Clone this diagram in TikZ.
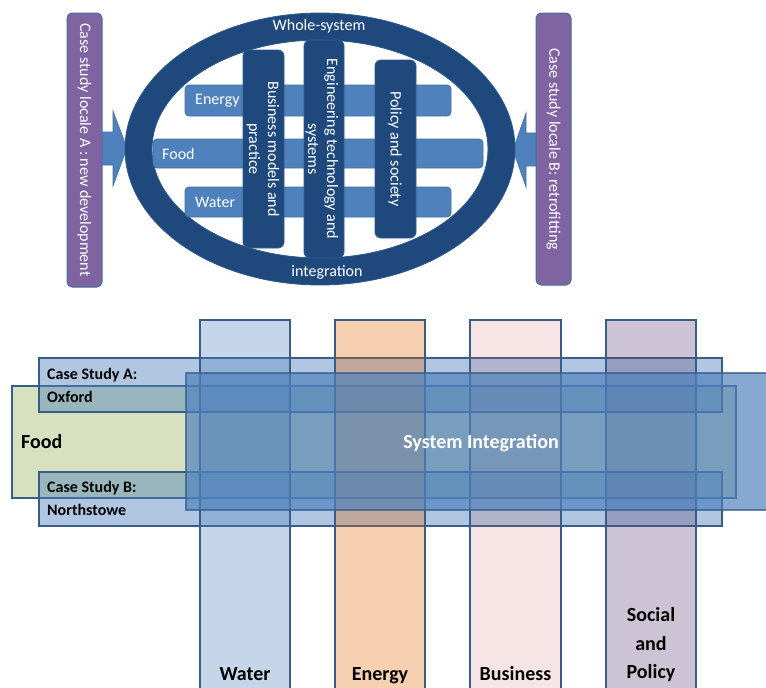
\documentclass[tikz,border=0pt]{standalone}
\usepackage{fontspec}
\setmainfont{Carlito}
\definecolor{ringblue}{HTML}{1F497D}
\definecolor{ringedge}{HTML}{2D5A8C}
\definecolor{midblue}{HTML}{4F81BD}
\definecolor{midedge}{HTML}{41719C}
\definecolor{localeviolet}{HTML}{8064A2}
\definecolor{bandedge}{HTML}{385D8A}
\definecolor{foodgreen}{HTML}{D7E0BF}
\definecolor{energyorange}{HTML}{E46C0A}
\definecolor{businessred}{HTML}{C0504D}
\definecolor{socialpurple}{HTML}{5F497A}
\tikzset{
  toptext/.style={text=white, font=\fontsize{16}{19}\selectfont, inner sep=0pt, align=center},
  hbar/.style={fill=midblue, draw=midedge, line width=0.8pt, rounded corners=4pt},
  vbar/.style={fill=ringblue, draw=ringedge, line width=0.8pt, rounded corners=6pt},
  localebox/.style={fill=localeviolet, draw=midedge, line width=1pt, rounded corners=5pt},
  blockarrow/.style={fill=midblue, draw=midedge, line width=0.6pt},
  band/.style={fill=midblue, fill opacity=0.45, draw=bandedge, line width=2.5pt},
  column/.style={draw=bandedge, line width=2.5pt},
  biglabel/.style={font=\bfseries\fontsize{20}{28.5}\selectfont, inner sep=0pt, align=center},
  caselabel/.style={font=\bfseries\fontsize{16}{19}\selectfont, inner sep=0pt, anchor=west}
}
\begin{document}
\begin{tikzpicture}[x=1pt,y=-1pt]
\useasboundingbox (0,0) rectangle (766,688);
\clip (0,0) rectangle (766,688);

% ---------- upper diagram: locales feeding the whole-system ring ----------
\draw[blockarrow] (100,132) -- (113,132) -- (113,111) -- (127,148) -- (113,186) -- (113,165) -- (100,165) -- cycle;
\draw[blockarrow] (538,133) -- (526,133) -- (526,113) -- (513,150) -- (526,187) -- (526,166) -- (538,166) -- cycle;

\draw[localebox] (67,13) rectangle (102,287);
\node[toptext, rotate=-90] (localeA) at (84.5,150) {Case study locale A : new development};
\draw[localebox] (536,13) rectangle (571,285);
\node[toptext, rotate=-90] (localeB) at (553.5,149) {Case study locale B: retrofitting};

% ring
\fill[ringblue, even odd rule] (320,149) ellipse [x radius=195pt, y radius=136pt]
                                (320,149) ellipse [x radius=168pt, y radius=109pt];
\draw[ringedge, line width=0.8pt] (320,149) ellipse [x radius=195pt, y radius=136pt];
\draw[ringedge, line width=0.8pt] (320,149) ellipse [x radius=168pt, y radius=109pt];
\node[toptext] (whole) at (319,26) {Whole-system};
\node[toptext] (integ) at (327,272) {integration};

% resource bars
\draw[hbar] (185,85) rectangle (451,116);
\draw[hbar] (153,139) rectangle (483,168);
\draw[hbar] (185,187) rectangle (451,217);
\node[toptext, anchor=west] (energyT) at (195,100.5) {Energy};
\node[toptext, anchor=west] (foodT) at (162,153.5) {Food};
\node[toptext, anchor=west] (waterT) at (195,202) {Water};

% theme bars
\draw[vbar] (243,50) rectangle (284,248);
\draw[vbar] (304,40) rectangle (344,258);
\draw[vbar] (375,60) rectangle (416,238);
\node[toptext, rotate=-90] (business) at (263,149) {Business models and\\practice};
\node[toptext, rotate=-90] (engineering) at (322,149) {Engineering technology and\\systems};
\node[toptext, rotate=-90] (policy) at (395,149) {Policy and society};

% ---------- lower diagram: overlapping bands and columns ----------
\draw[fill=foodgreen, draw=bandedge, line width=2.5pt] (12,386) rectangle (736,498);
\draw[band] (39,358) rectangle (722,412);
\draw[band] (39,472) rectangle (722,526);

\draw[column, fill=midblue, fill opacity=0.32] (200,320) rectangle (290,700);
\draw[column, fill=energyorange, fill opacity=0.32] (335,320) rectangle (425,700);
\draw[column, fill=businessred, fill opacity=0.15] (470,320) rectangle (561,700);
\draw[column, fill=socialpurple, fill opacity=0.32] (606,320) rectangle (696,700);

% integration band laid across everything
\draw[fill=midblue, fill opacity=0.69, draw=bandedge, draw opacity=0.75, line width=2.5pt] (186,373) rectangle (790,510);

\node[caselabel] (caseA) at (47,375) {Case Study A:};
\node[caselabel] (oxford) at (47,397) {Oxford};
\node[caselabel] (caseB) at (47,488) {Case Study B:};
\node[caselabel] (northstowe) at (47,510) {Northstowe};
\node[biglabel, anchor=west] (foodband) at (21,442) {Food};
\node[biglabel, text=white] (sysint) at (481,443) {System Integration};

\node[biglabel, anchor=base] (water) at (245,680) {Water};
\node[biglabel, anchor=base] (energy) at (380,680) {Energy};
\node[biglabel, anchor=base] (businessL) at (515.5,680) {Business};
\node[biglabel] (socialL) at (651,645) {Social\\and\\Policy};
\end{tikzpicture}
\end{document}
